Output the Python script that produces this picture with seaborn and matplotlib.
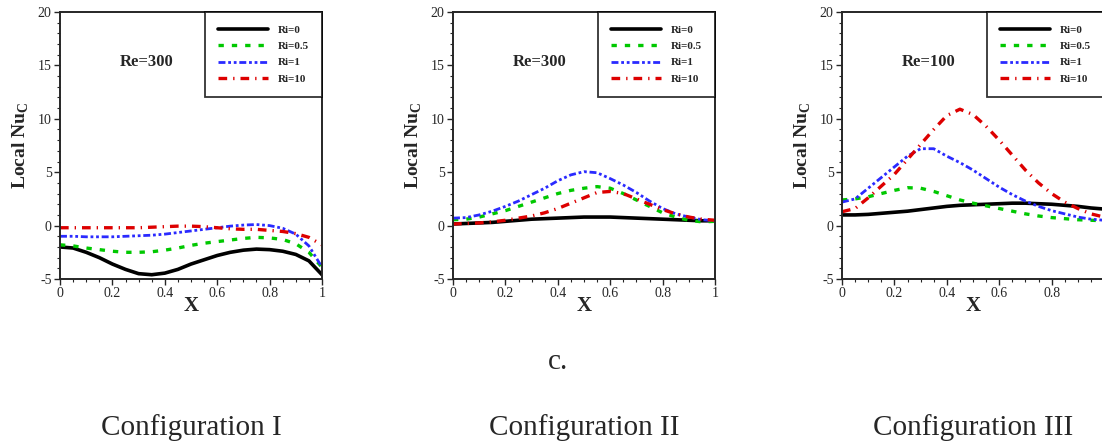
import numpy as np
import pandas as pd
import matplotlib
matplotlib.use("Agg")
import matplotlib.pyplot as plt
import seaborn as sns
from matplotlib.ticker import MultipleLocator

sns.set_style("ticks")
plt.rcParams['font.family'] = ['Liberation Serif', 'DejaVu Serif']
plt.rcParams['mathtext.fontset'] = 'custom'
plt.rcParams['mathtext.rm'] = 'Liberation Serif'
plt.rcParams['mathtext.bf'] = 'Liberation Serif:bold'
plt.rcParams['axes.unicode_minus'] = False

# Datos (x = 0, 0.05, ..., 1)
x = [0.0, 0.05, 0.1, 0.15, 0.2, 0.25, 0.3, 0.35, 0.4, 0.45, 0.5,
     0.55, 0.6, 0.65, 0.7, 0.75, 0.8, 0.85, 0.9, 0.95, 1.0]
ri_labels = ['Ri=0', 'Ri=0.5', 'Ri=1', 'Ri=10']

# Configuración I, Re=300
c1_ri0 = [-2.0, -2.1, -2.5, -3.0, -3.6, -4.1, -4.5, -4.6, -4.45, -4.1, -3.6,
          -3.2, -2.8, -2.5, -2.3, -2.2, -2.25, -2.4, -2.7, -3.3, -4.6]
c1_ri05 = [-1.8, -1.9, -2.1, -2.25, -2.4, -2.5, -2.5, -2.45, -2.3, -2.1, -1.85,
           -1.65, -1.5, -1.35, -1.2, -1.1, -1.15, -1.3, -1.7, -2.5, -3.9]
c1_ri1 = [-1.0, -1.0, -1.05, -1.05, -1.05, -1.0, -0.95, -0.9, -0.8, -0.65, -0.5,
          -0.35, -0.2, -0.05, 0.05, 0.1, 0.0, -0.25, -0.8, -1.9, -3.9]
c1_ri10 = [-0.2, -0.2, -0.2, -0.2, -0.2, -0.2, -0.2, -0.15, -0.1, -0.05, -0.05,
           -0.1, -0.2, -0.3, -0.35, -0.35, -0.45, -0.55, -0.75, -1.1, -1.8]

# Configuración II, Re=300
c2_ri0 = [0.15, 0.2, 0.25, 0.3, 0.4, 0.5, 0.6, 0.65, 0.7, 0.75, 0.8,
          0.8, 0.8, 0.75, 0.7, 0.65, 0.6, 0.55, 0.5, 0.45, 0.45]
c2_ri05 = [0.55, 0.6, 0.8, 1.1, 1.4, 1.8, 2.2, 2.6, 3.0, 3.3, 3.5,
           3.65, 3.5, 3.0, 2.4, 1.8, 1.2, 0.8, 0.5, 0.35, 0.4]
c2_ri1 = [0.7, 0.75, 1.0, 1.35, 1.8, 2.3, 2.9, 3.5, 4.2, 4.75, 5.05,
          4.95, 4.4, 3.8, 3.1, 2.3, 1.6, 1.1, 0.8, 0.55, 0.45]
c2_ri10 = [0.15, 0.2, 0.25, 0.35, 0.5, 0.7, 0.9, 1.2, 1.6, 2.1, 2.6,
           3.1, 3.2, 3.0, 2.5, 2.0, 1.5, 1.1, 0.8, 0.6, 0.5]

# Configuración III, Re=100
c3_ri0 = [1.0, 1.0, 1.05, 1.15, 1.25, 1.35, 1.5, 1.65, 1.8, 1.9, 1.95,
          2.0, 2.05, 2.1, 2.1, 2.05, 2.0, 1.9, 1.8, 1.65, 1.55]
c3_ri05 = [2.4, 2.5, 2.7, 3.0, 3.3, 3.55, 3.5, 3.2, 2.8, 2.4, 2.1,
           1.85, 1.6, 1.35, 1.1, 0.9, 0.75, 0.65, 0.55, 0.5, 0.45]
c3_ri1 = [2.2, 2.5, 3.5, 4.5, 5.5, 6.5, 7.2, 7.2, 6.5, 5.9, 5.2,
          4.4, 3.6, 2.9, 2.3, 1.8, 1.4, 1.1, 0.8, 0.6, 0.5]
c3_ri10 = [1.3, 1.6, 2.6, 3.7, 4.8, 6.2, 7.6, 9.0, 10.3, 10.9, 10.4,
           9.3, 8.0, 6.6, 5.2, 4.0, 3.0, 2.2, 1.6, 1.1, 0.8]

panels = [
    ('Re=300', 'Configuration I', [c1_ri0, c1_ri05, c1_ri1, c1_ri10]),
    ('Re=300', 'Configuration II', [c2_ri0, c2_ri05, c2_ri1, c2_ri10]),
    ('Re=100', 'Configuration III', [c3_ri0, c3_ri05, c3_ri1, c3_ri10]),
]

estilos = [
    dict(color='black', linestyle='-', linewidth=2.6),
    dict(color='#00c800', linestyle=(0, (1.6, 2.4)), linewidth=2.4),
    dict(color='#2a2aff', linestyle=(0, (2.5, 1, 1, 1, 1, 1)), linewidth=2.0),
    dict(color='#dd0000', linestyle=(0, (2.6, 1.8, 0.4, 1.8)), linewidth=2.4),
]

fig = plt.figure(figsize=(11.02, 4.46), dpi=100)
lefts = [60, 453, 842]

for i, (left, (re_txt, conf, series)) in enumerate(zip(lefts, panels)):
    ax = fig.add_axes([left / 1102, 167 / 446, 262 / 1102, 267 / 446])
    for lab, vals, st in zip(ri_labels, series, estilos):
        sns.lineplot(x=x, y=vals, ax=ax, label=lab, **st)
    ax.set_xlim(0, 1)
    ax.set_ylim(-5, 20)
    ax.set_xticks([0, 0.2, 0.4, 0.6, 0.8, 1.0])
    ax.set_xticklabels(['0', '0.2', '0.4', '0.6', '0.8', '1'])
    ax.xaxis.set_minor_locator(MultipleLocator(0.05))
    ax.yaxis.set_major_locator(MultipleLocator(5))
    ax.yaxis.set_minor_locator(MultipleLocator(1))
    if i == 2:
        # el borde de la imagen corta esta etiqueta en el original
        ax.get_xticklabels()[-1].set_visible(False)
    ax.tick_params(which='major', direction='out', length=4, width=1, labelsize=10, pad=2)
    ax.tick_params(which='minor', direction='out', length=2.5, width=0.8)
    for sp in ax.spines.values():
        sp.set_linewidth(1.4)
        sp.set_visible(True)
    ax.set_xlabel('X', fontsize=15, fontweight='bold', labelpad=-3)
    ax.set_ylabel(r'Local Nu$_\mathbf{C}$', fontsize=14, fontweight='bold', labelpad=5)
    ax.text(0.33, 15.3, re_txt, fontsize=12, fontweight='bold', ha='center', va='center')
    leg = ax.legend(loc='upper right', borderaxespad=0, fancybox=False, frameon=True,
                    prop={'size': 8, 'weight': 'bold'}, handlelength=4.5,
                    handletextpad=0.9, labelspacing=0.6, borderpad=1.15)
    leg.get_frame().set_edgecolor('black')
    leg.get_frame().set_linewidth(1.3)
    fig.text((left + 131) / 1102, 1 - 428 / 446, conf, fontsize=21, ha='center', va='center')

fig.text(558 / 1102, 1 - 362 / 446, 'c.', fontsize=21, ha='center', va='center')

plt.savefig('out.png', dpi=100)
